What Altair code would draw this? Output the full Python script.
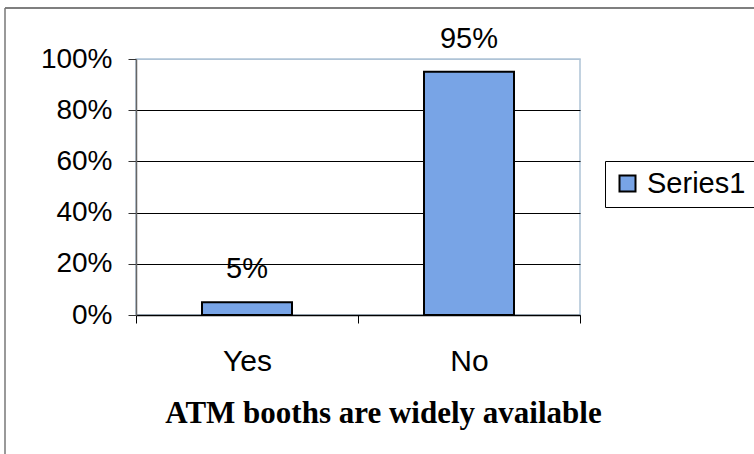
import altair as alt
import pandas as pd

# Survey answers: share of respondents per answer
categories = ["Yes", "No"]
shares = [0.05, 0.95]
series = ["Series1", "Series1"]

df = pd.DataFrame({"answer": categories, "share": shares, "series": series})

SANS = "Liberation Sans"
SERIF = "Liberation Serif"
BAR_BLUE = "#78A4E6"

x_enc = alt.X(
    "answer:N",
    sort=categories,
    scale=alt.Scale(paddingInner=0, paddingOuter=0),
    axis=alt.Axis(
        title="ATM booths are widely available",
        titleFont=SERIF,
        titleFontWeight="bold",
        titleFontSize=31,
        titleColor="black",
        titleX=247,
        titleY=107,
        titleAlign="center",
        titleBaseline="alphabetic",
        labelAngle=0,
        labelFont=SANS,
        labelFontSize=30,
        labelColor="black",
        labelBaseline="alphabetic",
        labelPadding=47,
        tickBand="extent",
        tickSize=8,
        tickColor="black",
        domainColor="black",
        domainWidth=1.5,
        grid=False,
    ),
)

y_enc = alt.Y(
    "share:Q",
    scale=alt.Scale(domain=[0, 1], nice=False),
    axis=alt.Axis(
        title=None,
        format=".0%",
        values=[0, 0.2, 0.4, 0.6, 0.8, 1.0],
        labelFont=SANS,
        labelFontSize=28,
        labelColor="black",
        labelPadding=16,
        tickSize=8,
        tickColor="#333333",
        domainColor="#666666",
        domainWidth=1.5,
        grid=True,
        gridColor={"condition": {"test": "datum.value >= 1", "value": "#AFC3D6"}, "value": "black"},
        gridWidth=1,
    ),
)

base = alt.Chart(df)

bars = base.mark_bar(size=90, stroke="black", strokeWidth=2).encode(
    x=x_enc,
    y=y_enc,
    color=alt.Color(
        "series:N",
        scale=alt.Scale(range=[BAR_BLUE]),
        legend=alt.Legend(
            title=None,
            orient="none",
            legendX=469,
            legendY=102,
            strokeColor="black",
            fillColor="white",
            padding=8,
            symbolType="square",
            symbolSize=256,
            symbolStrokeColor="black",
            symbolStrokeWidth=2,
            labelFont=SANS,
            labelFontSize=29,
            labelColor="black",
            labelOffset=5,
        ),
    ),
)

labels = base.mark_text(
    font=SANS, fontSize=29, color="black", baseline="alphabetic", dy=-24
).encode(
    x=alt.X("answer:N", sort=categories),
    y="share:Q",
    text=alt.Text("share:Q", format=".0%"),
)

# Outer frame of the chart sheet
frame_df = pd.DataFrame({"k": [0]})
frame_top = alt.Chart(frame_df).mark_rule(color="#555555", strokeWidth=1.5).encode(
    x=alt.value(-131), x2=alt.value(620), y=alt.value(-51)
)
frame_left = alt.Chart(frame_df).mark_rule(color="#777777", strokeWidth=1.5).encode(
    x=alt.value(-131), y=alt.value(-51), y2=alt.value(400)
)

chart = (
    alt.layer(bars, labels, frame_top, frame_left)
    .properties(
        width=444,
        height=256,
        autosize=alt.AutoSizeParams(type="none"),
        padding={"left": 136, "top": 59, "right": 174, "bottom": 139},
        background="white",
    )
    .configure_view(stroke="#AFC3D6", strokeWidth=1.5)
)

chart.save("out.html", embed_options={"renderer": "svg", "actions": False})
